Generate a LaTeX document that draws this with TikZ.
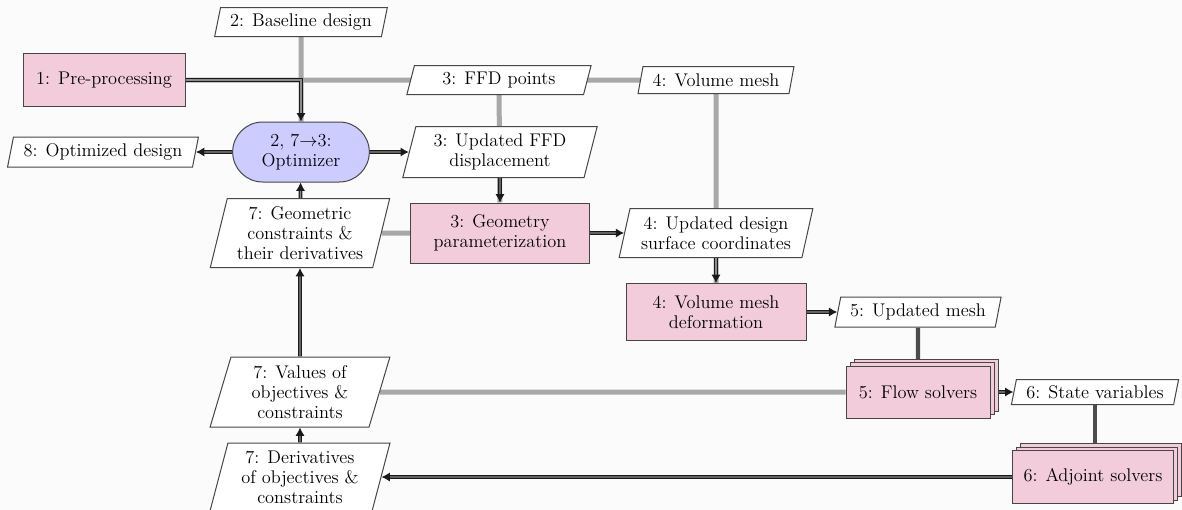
\documentclass[tikz,border=0pt]{standalone}
\usetikzlibrary{shapes.geometric,shapes.misc,shadows,arrows.meta}
\definecolor{fnpink}{RGB}{242,204,218}
\definecolor{optblue}{RGB}{204,204,255}
\definecolor{datagray}{RGB}{168,168,168}
\definecolor{bgcol}{RGB}{251,251,251}
\definecolor{edgecol}{RGB}{70,70,70}
\pgfdeclarelayer{background}
\pgfsetlayers{background,main}
\tikzset{
  every node/.style={font=\fontsize{11}{12}\selectfont},
  fnbox/.style={rectangle, draw=edgecol, line width=0.6pt, fill=fnpink, align=center, inner sep=1pt},
  optbox/.style={rounded rectangle, draw=edgecol, line width=0.6pt, fill=optblue, align=center, inner sep=1pt},
  databox/.style={trapezium, trapezium left angle=75, trapezium right angle=105, trapezium stretches=true,
    draw=edgecol, line width=0.6pt, fill=white, align=center, inner sep=1pt},
  stacked/.style={copy shadow={shadow xshift=4.8pt, shadow yshift=4.2pt},
    copy shadow={shadow xshift=2.4pt, shadow yshift=2.1pt}},
  datalink/.style={draw=datagray, line width=3pt},
  solidlink/.style={draw=black!70, line width=2.6pt},
  proc/.style={draw=black!90, line width=0.75pt, double=black!45, double distance=0.8pt,
    -{Latex[length=5pt,width=5.5pt]}},
}
\begin{document}
\begin{tikzpicture}[x=0.6pt,y=-0.6pt]
\useasboundingbox (0,0) rectangle (1182,510);
\begin{pgfonlayer}{background}
\fill[bgcol] (0,0) rectangle (1182,510);
\end{pgfonlayer}

\node[databox, minimum width=0.6*173pt, minimum height=0.6*29pt] (base) at (301,22) {2: Baseline design};
\node[fnbox, minimum width=0.6*162pt, minimum height=0.6*53pt] (pre) at (104,80) {1: Pre-processing};
\node[databox, minimum width=0.6*185pt, minimum height=0.6*29pt] (ffd) at (499,80) {3: FFD points};
\node[databox, minimum width=0.6*156pt, minimum height=0.6*27pt] (vol) at (716,80) {4: Volume mesh};
\node[optbox, minimum width=0.6*140pt, minimum height=0.6*60pt] (opt) at (301,152) {2, 7$\to$3:\\Optimizer};
\node[databox, minimum width=0.6*191pt, minimum height=0.6*30pt] (od) at (103,152) {8: Optimized design};
\node[databox, minimum width=0.6*196pt, minimum height=0.6*51pt] (ufd) at (500,152) {3: Updated FFD\\displacement};
\node[databox, minimum width=0.6*180pt, minimum height=0.6*69pt] (gc) at (300,233) {7: Geometric\\constraints \&\\their derivatives};
\node[fnbox, minimum width=0.6*179pt, minimum height=0.6*60pt] (geo) at (500,233) {3: Geometry\\parameterization};
\node[databox, minimum width=0.6*194pt, minimum height=0.6*49pt] (uds) at (716,233) {4: Updated design\\surface coordinates};
\node[fnbox, minimum width=0.6*180pt, minimum height=0.6*57pt] (vmd) at (716,312) {4: Volume mesh\\deformation};
\node[databox, minimum width=0.6*167pt, minimum height=0.6*30pt] (um) at (918,312) {5: Updated mesh};
\node[fnbox, stacked, minimum width=0.6*144pt, minimum height=0.6*52pt] (flow) at (918,392) {5: Flow solvers};
\node[databox, minimum width=0.6*168pt, minimum height=0.6*25pt] (sv) at (1095,392) {6: State variables};
\node[fnbox, stacked, minimum width=0.6*161pt, minimum height=0.6*53pt] (adj) at (1093,477) {6: Adjoint solvers};
\node[databox, minimum width=0.6*181pt, minimum height=0.6*70pt] (val) at (300,392) {7: Values of\\objectives \&\\constraints};
\node[databox, minimum width=0.6*181pt, minimum height=0.6*68pt] (der) at (300,477) {7: Derivatives\\of objectives \&\\constraints};

\begin{pgfonlayer}{background}
\draw[datalink] (base) -- (opt);
\draw[datalink] (pre) -- (vol);
\draw[datalink] (ffd) -- (geo);
\draw[datalink] (vol) -- (vmd);
\draw[datalink] (gc) -- (geo);
\draw[datalink] (val) -- (flow);
\draw[solidlink] (um) -- (flow);
\draw[solidlink] (sv) -- (sv |- adj);
\end{pgfonlayer}

\draw[proc] (pre.east) -| (opt.north);
\draw[proc] (opt) -- (ufd);
\draw[proc] (ufd) -- (geo);
\draw[proc] (opt) -- (od);
\draw[proc] (gc) -- (opt);
\draw[proc] (geo) -- (uds);
\draw[proc] (uds) -- (vmd);
\draw[proc] (vmd) -- (um);
\draw[proc] ([xshift=4.8pt]flow.east) -- (sv);
\draw[proc] (val) -- (gc);
\draw[proc] (der) -- (val);
\draw[proc] (adj) -- (der);
\end{tikzpicture}
\end{document}
